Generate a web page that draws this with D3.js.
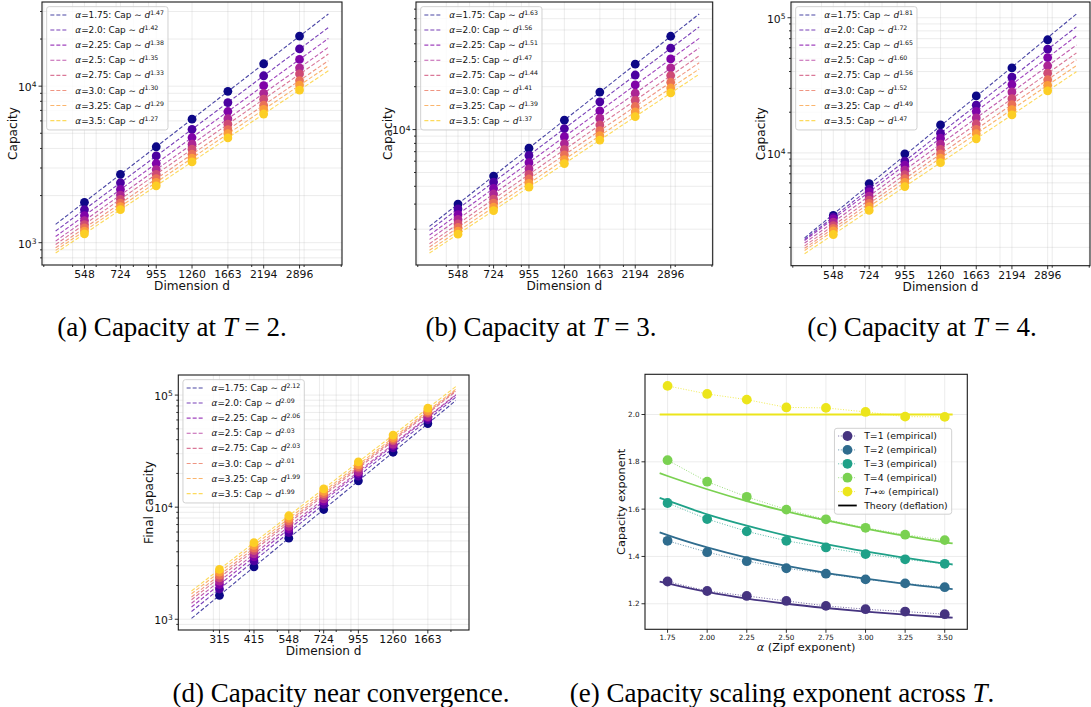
<!DOCTYPE html>
<html><head><meta charset="utf-8">
<script src="https://cdn.jsdelivr.net/npm/d3@7"></script>
<style>
body{margin:0;background:#fff;}
svg{display:block;font-family:"DejaVu Sans",sans-serif;}
</style></head><body>
<svg id="fig" width="1091" height="707"></svg>
<script>
// ---- data ----
const alphas = [1.75, 2.0, 2.25, 2.5, 2.75, 3.0, 3.25, 3.5];
const dimsTrain = [548, 724, 955, 1260, 1663, 2194, 2896];
const dimsFinal = [315, 415, 548, 724, 955, 1260, 1663];

// fitted capacity-scaling exponents, one per alpha
const expT1  = [1.294, 1.254, 1.233, 1.212, 1.191, 1.177, 1.167, 1.156];
const expT2  = [1.466, 1.418, 1.380, 1.350, 1.327, 1.303, 1.286, 1.270];
const expT3  = [1.626, 1.558, 1.506, 1.466, 1.438, 1.410, 1.388, 1.369];
const expT4  = [1.807, 1.716, 1.652, 1.598, 1.557, 1.521, 1.492, 1.469];
const expInf = [2.121, 2.087, 2.063, 2.030, 2.028, 2.011, 1.991, 1.990];

// measured capacity, rows = alphas, columns = dims
const capT2 = [
  [1810, 2730, 4100, 6150, 9270, 13900, 20900],
  [1626, 2415, 3581, 5297, 7853, 11650, 17290],
  [1489, 2188, 3206, 4699, 6887, 10090, 14820],
  [1384, 2014, 2931, 4256, 6194, 8995, 13090],
  [1306, 1892, 2735, 3954, 5715, 8260, 11970],
  [1245, 1786, 2564, 3673, 5272, 7551, 10840],
  [1186, 1698, 2427, 3467, 4966, 7096, 10160],
  [1140, 1626, 2307, 3281, 4667, 6637, 9441]
];
const capT3 = [
  [3000, 4720, 7410, 11640, 18320, 28770, 45190],
  [2773, 4285, 6592, 10160, 15670, 24150, 37240],
  [2535, 3864, 5861, 8913, 13550, 20590, 31330],
  [2344, 3531, 5304, 7965, 11980, 18000, 27100],
  [2178, 3251, 4845, 7222, 10770, 16050, 23950],
  [2056, 3046, 4501, 6650, 9829, 14520, 21490],
  [1936, 2852, 4190, 6162, 9063, 13310, 19580],
  [1845, 2702, 3949, 5775, 8440, 12330, 18070]
];
const capT4 = [
  [3443, 5930, 9840, 16100, 26400, 42550, 68700],
  [3342, 5395, 8690, 13990, 22540, 36310, 58610],
  [3251, 5149, 8128, 12840, 20290, 32060, 50700],
  [3069, 4789, 7463, 11620, 18130, 28240, 44040],
  [2897, 4475, 6890, 10610, 16360, 25200, 38900],
  [2767, 4224, 6436, 9811, 14950, 22780, 34760],
  [2649, 4009, 6058, 9152, 13850, 20910, 31640],
  [2489, 3749, 5633, 8462, 12720, 19110, 28770]
];
const capFinal = [
  [1635, 2933, 5284, 9537, 17170, 30910, 55640],
  [1862, 3315, 5920, 10590, 18910, 33750, 60260],
  [2042, 3603, 6385, 11330, 20070, 35500, 62920],
  [2188, 3828, 6730, 11840, 20790, 36510, 64120],
  [2344, 4102, 7211, 12690, 22280, 39120, 68710],
  [2477, 4311, 7537, 13190, 23030, 40190, 70210],
  [2636, 4565, 7930, 13800, 23970, 41620, 72270],
  [2786, 4823, 8381, 14590, 25330, 43990, 76380]
];

// deflation theory, sampled on an alpha grid
const theoryAlpha = [1.70, 1.75, 2.00, 2.25, 2.50, 2.75, 3.00, 3.25, 3.50, 3.55];
const theoryT1  = [1.294, 1.286, 1.250, 1.222, 1.200, 1.182, 1.167, 1.154, 1.143, 1.141];
const theoryT2  = [1.502, 1.490, 1.438, 1.395, 1.360, 1.331, 1.306, 1.284, 1.265, 1.262];
const theoryT3  = [1.648, 1.636, 1.578, 1.530, 1.488, 1.452, 1.421, 1.394, 1.370, 1.366];
const theoryT4  = [1.752, 1.740, 1.684, 1.634, 1.590, 1.552, 1.518, 1.487, 1.460, 1.455];
const theoryInf = [2.000, 2.000, 2.000, 2.000, 2.000, 2.000, 2.000, 2.000, 2.000, 2.000];

const exponentTicksY = [1.2, 1.4, 1.6, 1.8, 2.0];
const seriesNames = ["T=1", "T=2", "T=3", "T=4", "T\u2192\u221e"];

// ---- drawing ----
const svg = d3.select("#fig");
const GRID = "#b0b0b0";
const TICK_FONT = 10.8, LEGEND_FONT = 8.9;
const fmtAlpha = a => Number.isInteger(a) ? a.toFixed(1) : String(a);
const alphaColor = i => d3.interpolatePlasma(i * 0.9 / (alphas.length - 1));

function padLog(lo, hi) {
  const a = Math.log10(lo), b = Math.log10(hi), m = 0.05 * (b - a);
  return [Math.pow(10, a - m), Math.pow(10, b + m)];
}
function logMajors(lo, hi) {
  const out = [];
  for (let k = Math.floor(Math.log10(lo)); k <= Math.ceil(Math.log10(hi)); k++) {
    const v = Math.pow(10, k); if (v >= lo && v <= hi) out.push(v);
  }
  return out;
}
function logMinors(lo, hi) {
  const out = [];
  for (let k = Math.floor(Math.log10(lo)); k <= Math.ceil(Math.log10(hi)); k++)
    for (let m = 2; m <= 9; m++) {
      const v = m * Math.pow(10, k); if (v >= lo && v <= hi) out.push(v);
    }
  return out;
}
function addParts(text, parts) {
  parts.forEach(p => {
    const t = text.append("tspan").text(p.t);
    if (p.i) t.attr("font-style", "italic");
    if (p.sup) t.attr("font-size", "0.7em").attr("dy", "-0.5em");
  });
}

function drawLegend(g, left, top, rows, rowH, padTop, fontSize, handle) {
  const lg = g.append("g");
  const frame = lg.append("rect").attr("x", left).attr("y", top).attr("rx", 2.5)
    .attr("fill", "#fff").attr("fill-opacity", 0.8).attr("stroke", "#cccccc").attr("stroke-width", 0.9);
  const hx0 = left + 3.7, hx1 = hx0 + 2 * fontSize, tx = hx1 + 0.8 * fontSize;
  let maxW = 0;
  rows.forEach((r, i) => {
    const cy = top + padTop + i * rowH;
    handle(lg, r, hx0, hx1, cy);
    const t = lg.append("text").attr("x", tx).attr("y", cy).attr("dy", "0.35em")
      .attr("font-size", fontSize).attr("fill", "#111");
    addParts(t, r.parts);
    maxW = Math.max(maxW, t.node().getComputedTextLength());
  });
  frame.attr("width", tx - left + maxW + 4).attr("height", padTop + (rows.length - 1) * rowH + padTop + 1);
  return frame;
}

function frameAndLabels(g, box, xlabel, ylabel, ylabX, labelSize) {
  g.append("rect").attr("x", box.x0).attr("y", box.y0)
    .attr("width", box.x1 - box.x0).attr("height", box.y1 - box.y0)
    .attr("fill", "none").attr("stroke", "#1a1a1a").attr("stroke-width", 1.1);
  g.append("text").attr("x", (box.x0 + box.x1) / 2).attr("y", box.y1 + xlabel.dy)
    .attr("text-anchor", "middle").attr("font-size", labelSize).attr("fill", "#111")
    .call(t => addParts(t, xlabel.parts));
  g.append("text").attr("transform", `translate(${ylabX},${(box.y0 + box.y1) / 2}) rotate(-90)`)
    .attr("text-anchor", "middle").attr("font-size", labelSize).attr("fill", "#111").text(ylabel);
}

function capacityPanel(cfg) {
  const { box, dims, caps, exps } = cfg;
  const g = svg.append("g");
  const mld = d3.mean(dims, d => Math.log10(d));
  const fits = caps.map((row, i) => {
    const b = exps[i];
    return { b, a: d3.mean(row, v => Math.log10(v)) - b * mld };
  });
  const dLo = d3.min(dims) * 0.8, dHi = d3.max(dims) * 1.25;
  const fitAt = (f, d) => Math.pow(10, f.a + f.b * Math.log10(d));
  const yAll = [];
  fits.forEach(f => yAll.push(fitAt(f, dLo), fitAt(f, dHi)));
  caps.forEach(r => yAll.push(...r));
  const x = d3.scaleLog().domain(padLog(dLo, dHi)).range([box.x0, box.x1]);
  const y = d3.scaleLog().domain(padLog(d3.min(yAll), d3.max(yAll))).range([box.y1, box.y0]);
  const [xa, xb] = x.domain(), [ya, yb] = y.domain();
  const xMinor = logMinors(xa, xb), yMajor = logMajors(ya, yb), yMinor = logMinors(ya, yb);

  // grid
  const grid = g.append("g").attr("stroke", GRID).attr("stroke-width", 0.8);
  [...dims, ...xMinor].forEach(v => grid.append("line").attr("x1", x(v)).attr("x2", x(v))
    .attr("y1", box.y0).attr("y2", box.y1).attr("stroke-opacity", 0.3));
  [...yMajor, ...yMinor].forEach(v => grid.append("line").attr("y1", y(v)).attr("y2", y(v))
    .attr("x1", box.x0).attr("x2", box.x1).attr("stroke-opacity", 0.3));

  // measurements and power-law fits
  const line = d3.line().x(d => x(d[0])).y(d => y(d[1]));
  caps.forEach((row, i) => {
    const c = alphaColor(i);
    g.append("g").selectAll("circle").data(row).join("circle")
      .attr("cx", (v, j) => x(dims[j])).attr("cy", v => y(v)).attr("r", 4.4).attr("fill", c);
    g.append("path").attr("d", line([[dLo, fitAt(fits[i], dLo)], [dHi, fitAt(fits[i], dHi)]]))
      .attr("fill", "none").attr("stroke", c).attr("stroke-opacity", 0.75)
      .attr("stroke-width", 1.1).attr("stroke-dasharray", "4,2");
  });

  // ticks
  const tk = g.append("g").attr("stroke", "#1a1a1a").attr("stroke-width", 0.9);
  dims.forEach(v => tk.append("line").attr("x1", x(v)).attr("x2", x(v)).attr("y1", box.y1).attr("y2", box.y1 + 3.5));
  xMinor.forEach(v => tk.append("line").attr("x1", x(v)).attr("x2", x(v)).attr("y1", box.y1).attr("y2", box.y1 + 2));
  yMajor.forEach(v => tk.append("line").attr("y1", y(v)).attr("y2", y(v)).attr("x1", box.x0).attr("x2", box.x0 - 3.5));
  yMinor.forEach(v => tk.append("line").attr("y1", y(v)).attr("y2", y(v)).attr("x1", box.x0).attr("x2", box.x0 - 2));
  g.append("g").selectAll("text").data(dims).join("text")
    .attr("x", d => x(d)).attr("y", box.y1 + 12.9).attr("text-anchor", "middle")
    .attr("font-size", TICK_FONT).attr("fill", "#111").text(d => d);
  yMajor.forEach(v => {
    const t = g.append("text").attr("x", box.x0 - 5.5).attr("y", y(v)).attr("dy", "0.45em")
      .attr("text-anchor", "end").attr("font-size", TICK_FONT).attr("fill", "#111");
    addParts(t, [{ t: "10" }, { t: String(Math.round(Math.log10(v))), sup: true }]);
  });

  frameAndLabels(g, box, { dy: 25, parts: [{ t: "Dimension d" }] }, cfg.ylabel, cfg.ylabX, 12.1);

  const rows = alphas.map((a, i) => ({
    color: alphaColor(i),
    parts: [{ t: "\u03b1", i: true }, { t: "=" + fmtAlpha(a) + ": Cap \u223c " }, { t: "d", i: true },
            { t: exps[i].toFixed(2), sup: true }]
  }));
  drawLegend(g, box.x0 + 4.65, box.y0 + 4.65, rows, 15.1, 8.3, LEGEND_FONT, (lg, r, x0, x1, cy) => {
    lg.append("line").attr("x1", x0).attr("x2", x1).attr("y1", cy).attr("y2", cy)
      .attr("stroke", r.color).attr("stroke-opacity", 0.75).attr("stroke-width", 1.1).attr("stroke-dasharray", "4,2");
  });
}

function caption(cx, cy, parts) {
  const t = svg.append("text").attr("x", cx).attr("y", cy).attr("text-anchor", "middle")
    .attr("font-family", "'Liberation Serif','Times New Roman',serif").attr("font-size", 27).attr("fill", "#000");
  addParts(t, parts);
}

capacityPanel({ box: { x0: 42, x1: 342, y0: 2, y1: 265 }, dims: dimsTrain, caps: capT2, exps: expT2, ylabel: "Capacity", ylabX: 16.5 });
capacityPanel({ box: { x0: 416, x1: 712.7, y0: 2, y1: 265 }, dims: dimsTrain, caps: capT3, exps: expT3, ylabel: "Capacity", ylabX: 392 });
capacityPanel({ box: { x0: 791, x1: 1090, y0: 2, y1: 265.7 }, dims: dimsTrain, caps: capT4, exps: expT4, ylabel: "Capacity", ylabX: 765 });
capacityPanel({ box: { x0: 178.3, x1: 469, y0: 375, y1: 630 }, dims: dimsFinal, caps: capFinal, exps: expInf, ylabel: "Final capacity", ylabX: 153 });

// ---- exponent panel ----
(function exponentPanel() {
  const box = { x0: 645, x1: 967.3, y0: 374.3, y1: 629.3 };
  const g = svg.append("g");
  const empirical = [expT1, expT2, expT3, expT4, expInf];
  const theory = [theoryT1, theoryT2, theoryT3, theoryT4, theoryInf];
  const colors = [0.15, 0.35, 0.57, 0.8, 0.97].map(d3.interpolateViridis);
  const xe = d3.extent(theoryAlpha.concat(alphas));
  const ye = d3.extent(empirical.flat().concat(theory.flat()));
  const px = 0.05 * (xe[1] - xe[0]), py = 0.05 * (ye[1] - ye[0]);
  const x = d3.scaleLinear().domain([xe[0] - px, xe[1] + px]).range([box.x0, box.x1]);
  const y = d3.scaleLinear().domain([ye[0] - py, ye[1] + py]).range([box.y1, box.y0]);

  const grid = g.append("g").attr("stroke", GRID).attr("stroke-width", 0.8).attr("stroke-opacity", 0.3);
  alphas.forEach(v => grid.append("line").attr("x1", x(v)).attr("x2", x(v)).attr("y1", box.y0).attr("y2", box.y1));
  exponentTicksY.forEach(v => grid.append("line").attr("y1", y(v)).attr("y2", y(v)).attr("x1", box.x0).attr("x2", box.x1));

  const lineE = d3.line().x((v, j) => x(alphas[j])).y(v => y(v));
  const lineT = d3.line().x((v, j) => x(theoryAlpha[j])).y(v => y(v)).curve(d3.curveMonotoneX);
  empirical.forEach((vals, k) => {
    g.append("path").attr("d", lineE(vals)).attr("fill", "none").attr("stroke", colors[k])
      .attr("stroke-opacity", 0.75).attr("stroke-width", 1).attr("stroke-dasharray", "1,1.65");
    g.append("g").selectAll("circle").data(vals).join("circle")
      .attr("cx", (v, j) => x(alphas[j])).attr("cy", v => y(v)).attr("r", 4.9).attr("fill", colors[k]);
    g.append("path").attr("d", lineT(theory[k])).attr("fill", "none").attr("stroke", colors[k]).attr("stroke-width", 1.8);
  });

  const tk = g.append("g").attr("stroke", "#1a1a1a").attr("stroke-width", 0.9);
  alphas.forEach(v => tk.append("line").attr("x1", x(v)).attr("x2", x(v)).attr("y1", box.y1).attr("y2", box.y1 + 3.5));
  exponentTicksY.forEach(v => tk.append("line").attr("y1", y(v)).attr("y2", y(v)).attr("x1", box.x0).attr("x2", box.x0 - 3.5));
  g.append("g").selectAll("text").data(alphas).join("text")
    .attr("x", d => x(d)).attr("y", box.y1 + 11).attr("text-anchor", "middle")
    .attr("font-size", 7.2).attr("fill", "#111").text(d => d.toFixed(2));
  g.append("g").selectAll("text").data(exponentTicksY).join("text")
    .attr("x", box.x0 - 5.5).attr("y", d => y(d)).attr("dy", "0.35em").attr("text-anchor", "end")
    .attr("font-size", 7.2).attr("fill", "#111").text(d => d.toFixed(1));

  frameAndLabels(g, box, { dy: 22, parts: [{ t: "\u03b1", i: true }, { t: " (Zipf exponent)" }] }, "Capacity exponent", 625, 11.3);

  const rows = seriesNames.map((n, k) => ({
    color: colors[k], marker: true,
    parts: k === 4 ? [{ t: "T", i: true }, { t: "\u2192\u221e (empirical)" }] : [{ t: n + " (empirical)" }]
  }));
  rows.push({ color: "#000", marker: false, parts: [{ t: "Theory (deflation)" }] });
  const frame = drawLegend(g, 0, box.y0 + 54, rows, 13.9, 7.7, 9.3, (lg, r, x0, x1, cy) => {
    lg.append("line").attr("x1", x0).attr("x2", x1).attr("y1", cy).attr("y2", cy)
      .attr("stroke", r.color).attr("stroke-width", r.marker ? 1 : 1.8)
      .attr("stroke-opacity", r.marker ? 0.75 : 1).attr("stroke-dasharray", r.marker ? "1,1.65" : null);
    if (r.marker) lg.append("circle").attr("cx", (x0 + x1) / 2).attr("cy", cy).attr("r", 4.9).attr("fill", r.color);
  });
  const w = +frame.attr("width");
  frame.node().parentNode.setAttribute("transform", `translate(${box.x1 - 15.6 - w},0)`);
})();

// ---- captions ----
caption(172, 336, [{ t: "(a) Capacity at " }, { t: "T", i: true }, { t: " = 2." }]);
caption(541, 336, [{ t: "(b) Capacity at " }, { t: "T", i: true }, { t: " = 3." }]);
caption(922, 336, [{ t: "(c) Capacity at " }, { t: "T", i: true }, { t: " = 4." }]);
caption(341, 702, [{ t: "(d) Capacity near convergence." }]);
caption(782, 702, [{ t: "(e) Capacity scaling exponent across " }, { t: "T", i: true }, { t: "." }]);
</script>
</body></html>
